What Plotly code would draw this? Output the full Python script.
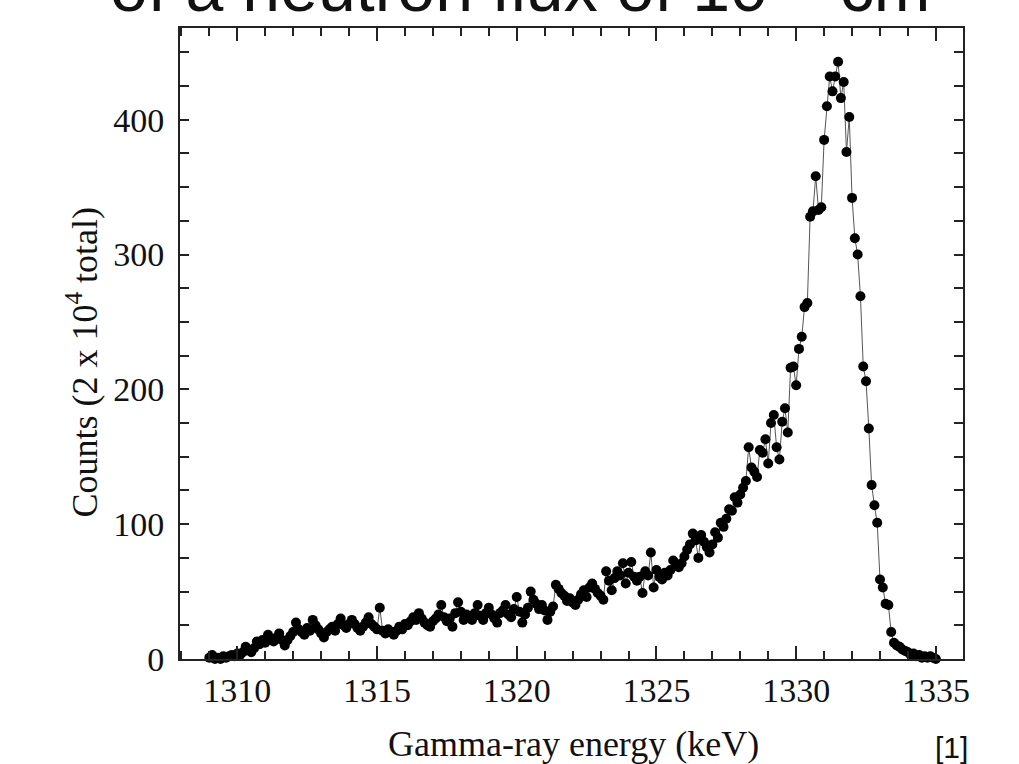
import plotly.graph_objects as go

# channel grid (keV): first channel and width
energy_start = 1309.0
channel_width = 0.1

counts = [
    1, 3, 0, 1, 0, 2, 1, 2, 3, 2,            # 1309.0 - 1309.9
    4, 3, 5, 9, 7, 5, 8, 13, 11, 14,         # 1310
    12, 18, 15, 13, 16, 19, 14, 10, 14, 17,  # 1311
    20, 27, 22, 20, 18, 23, 21, 29, 25, 22,  # 1312
    19, 16, 20, 22, 24, 21, 26, 30, 25, 23,  # 1313
    26, 29, 26, 23, 21, 24, 27, 31, 26, 24,  # 1314
    22, 38, 21, 19, 22, 20, 18, 21, 24, 22,  # 1315
    26, 25, 28, 31, 29, 34, 30, 27, 25, 24,  # 1316
    28, 30, 33, 40, 31, 28, 30, 24, 34, 42,  # 1317
    35, 29, 33, 31, 29, 34, 40, 32, 29, 34,  # 1318
    38, 33, 30, 27, 34, 36, 40, 33, 31, 37,  # 1319
    46, 35, 27, 33, 38, 50, 44, 41, 37, 40,  # 1320
    36, 29, 35, 39, 55, 52, 49, 47, 43, 45,  # 1321
    42, 40, 44, 48, 51, 46, 53, 56, 52, 49,  # 1322
    47, 44, 65, 58, 51, 60, 65, 62, 71, 56,  # 1323
    64, 72, 61, 58, 61, 49, 65, 62, 79, 53,  # 1324
    66, 61, 59, 64, 62, 66, 73, 70, 68, 71,  # 1325
    76, 81, 85, 93, 88, 75, 92, 87, 83, 79,  # 1326
    85, 94, 90, 101, 98, 104, 111, 110, 120, 116,   # 1327
    122, 127, 132, 157, 142, 139, 135, 155, 153, 163,  # 1328
    145, 175, 181, 157, 148, 176, 186, 168, 216, 217,  # 1329
    203, 230, 239, 261, 264, 328, 332, 358, 333, 335,  # 1330
    385, 410, 432, 421, 432, 443, 416, 428, 376, 402,  # 1331
    342, 312, 300, 269, 217, 206, 171, 129, 114, 101,  # 1332
    59, 53, 41, 40, 20, 12, 10, 9, 7, 6,     # 1333
    5, 3, 4, 2, 3, 1, 2, 1, 2, 1,            # 1334
    0,                                       # 1335.0
]
energies = [round(energy_start + i * channel_width, 1) for i in range(len(counts))]

x_ticks = [1310, 1315, 1320, 1325, 1330, 1335]
y_ticks = [0, 100, 200, 300, 400]

x_title = "Gamma-ray energy (keV)"
y_title = "Counts (2 x 10<sup>4</sup> total)"
top_text = "of a neutron flux of 10<sup>14</sup> cm<sup>-2</sup>"
ref_text = "[1]"

serif = "Liberation Serif, Times New Roman, serif"
sans = "Liberation Sans, Arial, sans-serif"

fig = go.Figure()
fig.add_trace(go.Scatter(
    x=energies, y=counts, mode="lines+markers",
    line=dict(color="#555555", width=1),
    marker=dict(color="black", size=10, line=dict(width=0)),
    showlegend=False, cliponaxis=False,
))

axis_common = dict(
    showline=True, linecolor="#222222", linewidth=2, mirror="allticks",
    ticks="inside", tickcolor="#222222", tickwidth=1.5,
    showgrid=False, zeroline=False,
    tickfont=dict(family=serif, size=34, color="#111111"),
)

fig.update_xaxes(
    range=[1307.95, 1335.97], tickvals=x_ticks, ticklen=13,
    minor=dict(dtick=1, tick0=1310, ticklen=8, ticks="inside", tickcolor="#222222", tickwidth=1.5, showgrid=False),
    **axis_common,
)
fig.update_yaxes(
    range=[0, 468], tickvals=y_ticks, ticklen=9, ticklabelstandoff=7,
    minor=dict(dtick=25, tick0=0, ticklen=9, ticks="inside", tickcolor="#222222", tickwidth=1.5, showgrid=False),
    **axis_common,
)

fig.update_layout(
    width=1019, height=764,
    margin=dict(l=180, r=56, t=28, b=105),
    paper_bgcolor="white", plot_bgcolor="white",
    annotations=[
        dict(text=x_title, xref="paper", yref="paper", x=0.503, y=-0.1395, yshift=3,
             xanchor="center", yanchor="middle", showarrow=False,
             font=dict(family=serif, size=36, color="#111111")),
        dict(text=y_title, xref="paper", yref="paper", x=-0.125, y=0.47,
             xanchor="center", yanchor="middle", showarrow=False, textangle=-90,
             font=dict(family=serif, size=36, color="#111111")),
        dict(text=ref_text, xref="paper", yref="paper", x=0.985, y=-0.145, yshift=3,
             xanchor="center", yanchor="middle", showarrow=False,
             font=dict(family=sans, size=30, color="#111111")),
        dict(text=top_text, xref="paper", yref="paper", x=-0.092, y=1.0, yshift=1,
             xanchor="left", yanchor="bottom", showarrow=False,
             font=dict(family=sans, size=68, color="#111111")),
    ],
)

fig.write_html("out.html", config={"displayModeBar": False},
               post_script="document.body.style.margin='0';document.body.style.overflow='hidden';")
